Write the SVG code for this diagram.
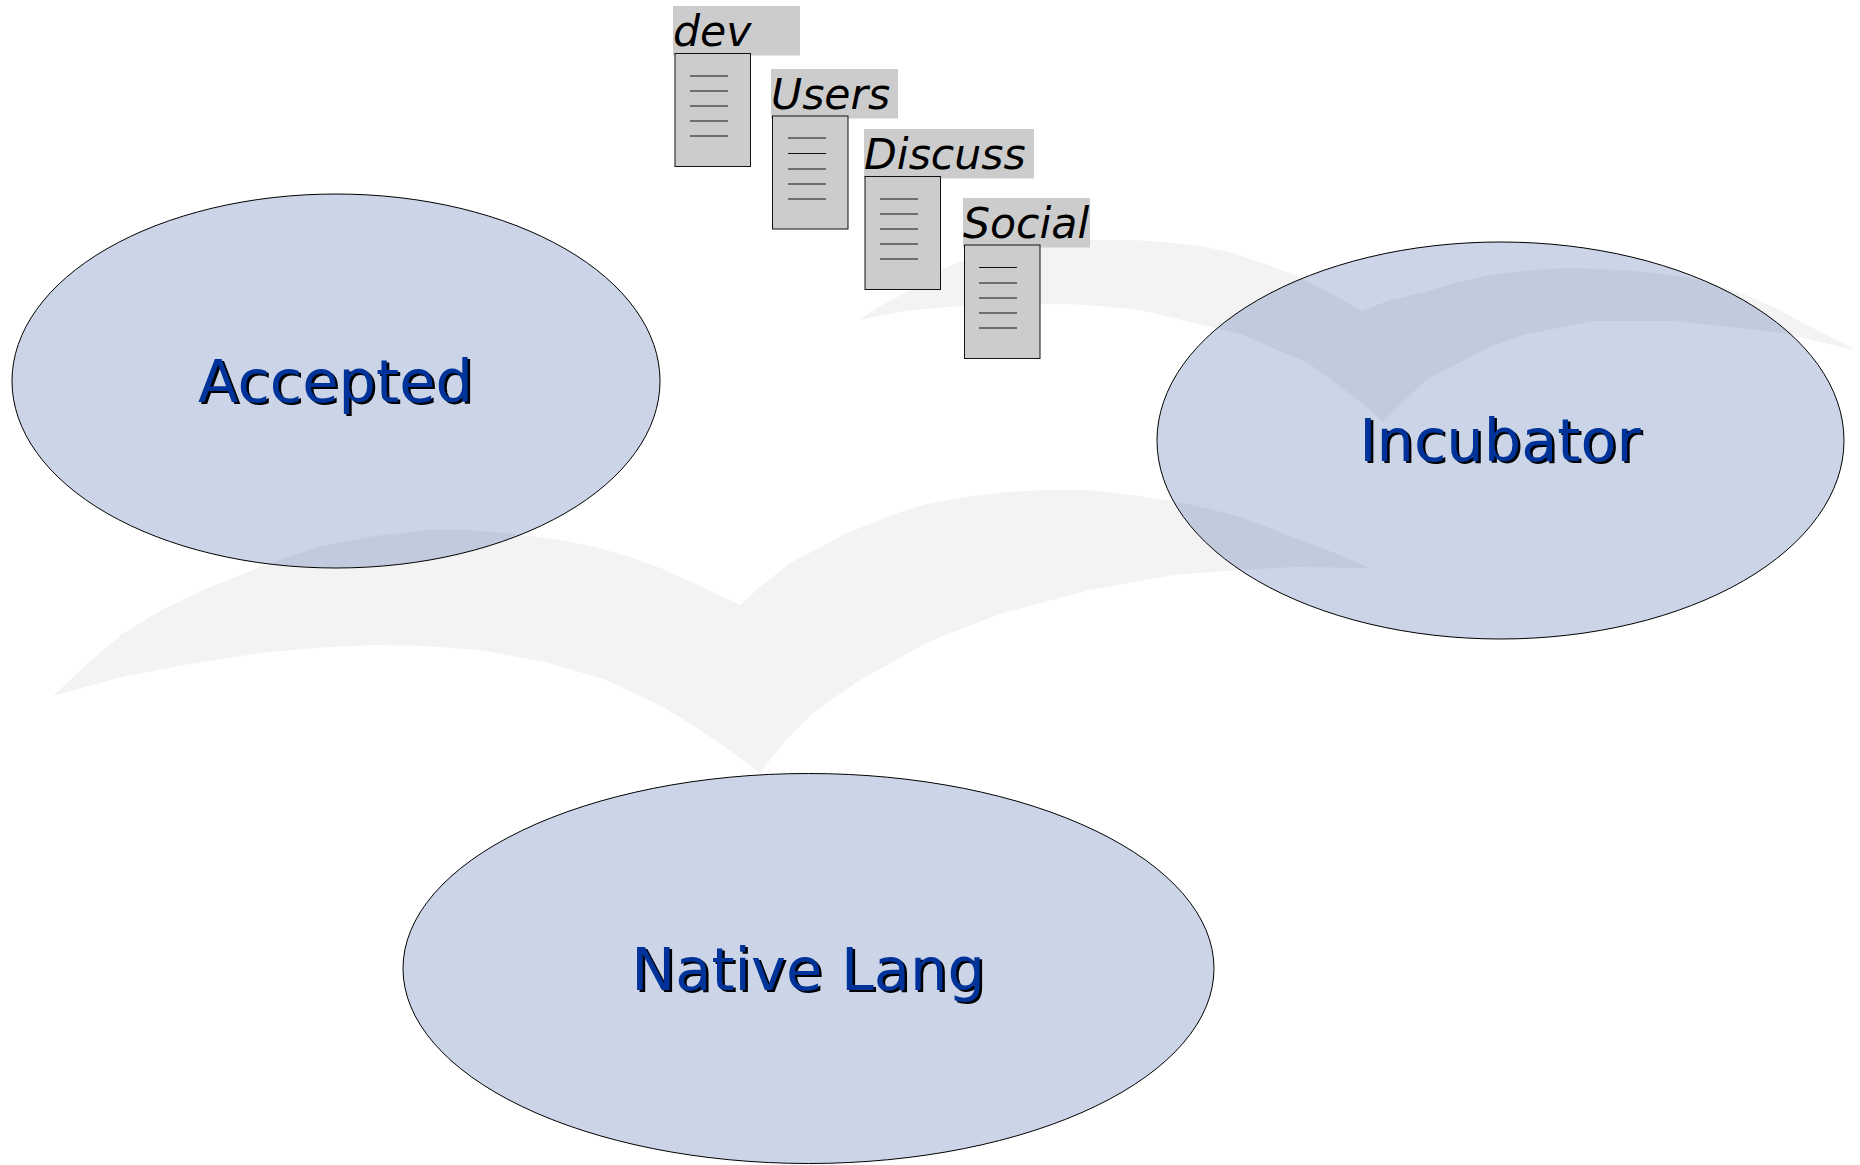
<svg xmlns="http://www.w3.org/2000/svg" width="1860" height="1165" viewBox="0 0 1860 1165">
<style>
.n{fill:#ccd5e8;stroke:#000;stroke-width:1}
.sw{fill:#000;fill-opacity:.046;stroke:none}
.t{font-family:"DejaVu Sans",sans-serif;font-size:59px;text-anchor:middle}
.f{fill:#003399}.s{fill:#000}
.lb{fill:#ccc}
.d{fill:#ccc;stroke:#111;stroke-width:1}
.l{stroke:#111;stroke-width:1;fill:none}
.dt{font-family:"DejaVu Sans",sans-serif;font-size:42.600px;font-style:italic;fill:#000}
</style>
<rect width="1860" height="1165" fill="#fff"/>
<g id="accepted"><ellipse class="n" cx="336" cy="381" rx="324" ry="187"/></g>
<g id="incubator"><ellipse class="n" cx="1500.500" cy="440.500" rx="343.500" ry="198.500"/></g>
<g id="native-lang"><ellipse class="n" cx="808.500" cy="968.500" rx="405.500" ry="195"/></g>
<g id="logo">
<path class="sw" d="M53 696L88 663L122 634L160 611L203 590L270 563L321 546L375 536L428 530H469L515 534L561 540L596 547L630 557L663 569L700 586L740 605L762 585L790 563L847 533L900 512L927 504L965 497L1007 492L1040 490H1087L1133 495L1177 502L1210 509L1240 517L1270 528L1295 538L1335 553L1370 568L1295 567L1240 570L1173 575L1090 590L1003 613L930 641L857 682L813 713L785 741L760 773L739 757L700 730L663 707L606 680L545 662L479 650L425 646L372 645L315 648L260 653L190 664L122 677Z"/>
<path class="sw" d="M858 320L882 305L905 293L935 272L970 258L1000 249L1035 243L1068 240H1100L1135 240L1165 242L1200 246L1230 252L1265 264L1295 275L1330 293L1362 311L1390 300L1425 292L1455 283L1490 275L1530 270L1569 268L1621 270L1655 273L1686 277L1720 286L1751 297L1780 310L1803 323L1858 351L1820 342L1783 333L1730 327L1673 321H1595L1558 328L1523 335L1490 347L1465 360L1445 370L1426 380L1405 400L1383 422L1370 410L1354 397L1308 363L1243 335L1190 322L1139 310L1100 306L1068 304L970 305L905 311Z"/>
</g>
<g id="labels">
<text class="t s" x="338" y="404">Accepted</text><text class="t f" x="335.500" y="401.500">Accepted</text>
<text class="t s" x="1502.500" y="463">Incubator</text><text class="t f" x="1500" y="460.500">Incubator</text>
<text class="t s" x="810.500" y="992">Native Lang</text><text class="t f" x="808" y="990">Native Lang</text>
</g>
<g id="doc-dev"><rect class="lb" x="673" y="6" width="127" height="49.500"/><rect class="d" x="675" y="53.500" width="75.500" height="113"/><path class="l" d="M690 76h38M690 91h38M690 106h38M690 121h38M690 136h38"/><text class="dt" x="673" y="46">dev</text></g>
<g id="doc-users"><rect class="lb" x="771" y="69" width="127" height="49.500"/><rect class="d" x="772.500" y="116" width="75.500" height="113"/><path class="l" d="M788 138h38M788 153.500h38M788 169h38M788 184h38M788 199h38"/><text class="dt" x="771" y="109">Users</text></g>
<g id="doc-discuss"><rect class="lb" x="864" y="129" width="170" height="49.500"/><rect class="d" x="865" y="176.500" width="75.500" height="113"/><path class="l" d="M880 199h38M880 214h38M880 229h38M880 244h38M880 259h38"/><text class="dt" x="864" y="169">Discuss</text></g>
<g id="doc-social"><rect class="lb" x="963" y="198" width="127" height="49.500"/><rect class="d" x="964.500" y="245" width="75.500" height="113.500"/><path class="l" d="M979 267.500h38M979 283h38M979 298h38M979 313h38M979 328h38"/><text class="dt" x="963" y="238">Social</text></g>
</svg>
